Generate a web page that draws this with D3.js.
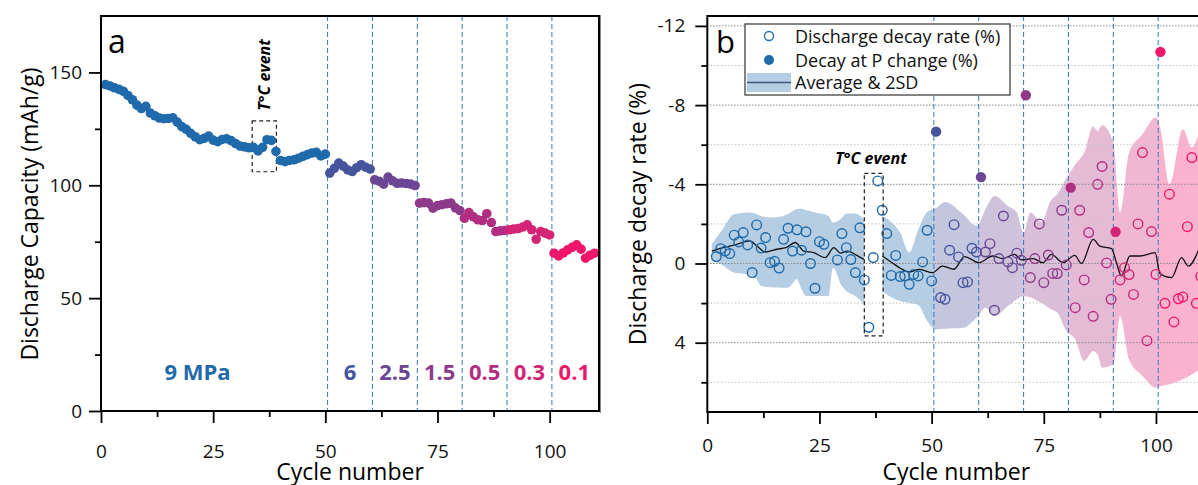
<!DOCTYPE html>
<html><head><meta charset="utf-8">
<script src="https://cdn.jsdelivr.net/npm/d3@7"></script>
<style>body{margin:0;background:#fff;} svg{display:block;font-family:"Open Sans",sans-serif;}</style>
</head><body><svg id="c" width="1198" height="485"></svg>
<script>
// ---------- DATA ----------
// Panel a: discharge capacity (mAh/g) for cycles 1..110
const capacity = [
 144.6,144.0,143.2,142.5,141.6,139.8,137.9,135.5,134.0,135.0,
 132.0,130.8,129.8,129.5,129.6,129.9,128.0,126.0,124.8,123.0,
 121.5,120.2,120.8,121.8,120.0,119.3,120.3,120.6,119.8,118.5,
 117.4,117.0,116.6,116.8,115.2,116.8,120.2,119.9,115.0,111.0,
 110.5,111.0,111.3,112.0,112.8,113.6,114.3,114.6,113.0,113.8,
 105.4,107.5,109.8,108.5,106.8,106.1,107.8,109.1,108.0,107.2,
 102.4,101.8,100.5,103.6,102.0,100.9,101.0,100.8,100.5,99.9,
 92.1,92.3,92.1,89.9,91.0,91.4,91.8,92.1,90.0,88.8,
 85.4,87.9,86.0,84.7,84.4,87.4,83.5,79.5,79.8,80.0,
 80.3,80.6,80.8,81.5,82.5,80.3,76.1,79.5,78.8,78.0,
 69.9,68.7,70.0,71.4,72.5,73.6,71.7,67.7,69.0,69.9
];
// Panel b: decay rate (%) open circles
const decayCycles = [2,3,4,5,6,7,8,9,10,11,12,13,14,15,16,17,18,19,20,21,22,23,24,25,26,
 29,30,31,32,33,34,35,36,37,38,39,40,41,42,43,44,45,46,47,48,49,50,
 52,53,54,55,56,57,58,59,60,62,63,64,65,66,67,68,69,70,
 72,73,74,75,76,77,78,79,80,82,83,84,85,86,87,88,89,90,
 92,93,94,95,96,97,98,99,100,102,103,104,105,106,107,108,109,110];
const decayValues = [-0.35,-0.75,-0.63,-0.5,-1.43,-1.09,-1.56,-0.94,0.46,-1.95,-0.78,-1.31,-0.04,-0.11,0.23,-1.22,-1.78,-0.63,-1.7,-0.67,-1.6,0.0,1.25,-1.1,-0.97,
 -0.18,-1.51,-0.8,-0.2,0.46,-1.8,0.83,3.22,-0.3,-4.17,-2.69,-1.51,0.6,-0.41,0.66,0.63,1.05,0.55,0.63,-0.08,-1.68,0.88,
 1.72,1.81,-0.67,-1.96,-0.33,0.97,0.93,-0.77,-0.58,-0.58,-1.0,2.36,-0.25,-2.4,-0.08,0.21,-0.52,-0.16,
 0.71,-0.25,-2.0,0.97,-0.43,0.5,0.51,-2.69,0.07,2.23,-2.69,0.83,-1.56,2.67,-4.0,-4.9,-0.03,1.81,
 0.83,0.21,0.56,1.56,-2.0,-5.6,3.9,-1.61,0.55,2.01,-3.5,2.95,1.78,1.69,-1.86,-5.35,2.01,0.65];
const pChangeCycles = [51,61,71,81,91,101];
const pChangeValues = [-6.66,-4.36,-8.5,-3.83,-1.6,-10.69];
// Average ± 2SD band (null = gap at T°C event)
const bandCycles = [1,3,6,9,11,12,14,17,18,20,21,22,24,27,28,30,31,33,35,37,39,41,43,45,47,49,51,53,57,60,62,64,67,69,70.5,72,74.5,76.5,78,80,82,84,86,87,88,90.5,92,94,97,100,101,103,106,108,110];
const bandUpper = [-0.97,-1.6,-2.49,-2.57,-2.5,-2.4,-2.32,-2.4,-2.5,-2.75,-2.77,-2.7,-2.57,-2.4,-2.07,-2.3,-2.52,-2.52,-2.2,null,-2.4,-2.1,-1.56,-0.55,-1.7,-2.6,-2.8,-3.1,-2.49,-1.9,-2.74,-3.41,-2.9,-2.57,-1.56,-2.57,-2.1,-3.16,-3.5,-4.3,-5.0,-5.6,-6.92,-6.7,-6.98,-6.1,-2.57,-5.6,-6.53,-7.37,-6.8,-4.0,-6.78,-5.86,-6.98];
const bandLower = [-0.13,0.04,0.46,0.56,0.8,1.14,1.2,1.22,1.22,0.8,1.3,1.64,1.64,1.64,0.21,1.14,1.4,1.64,2.06,null,1.4,1.7,1.9,2.0,2.1,2.9,3.33,3.3,3.25,2.74,2.23,2.65,2.15,1.8,1.64,1.72,2.0,2.3,2.48,3.4,3.83,4.92,4.42,4.6,5.26,5.09,2.65,4.84,5.68,6.27,6.2,6.1,5.85,5.6,5.34];
const meanCycles = [1,3.6,6.6,9.5,11,12.9,15.5,17.5,19.6,21.5,23.7,26.3,28.2,29.7,31.2,33,34.9,37,39,41.2,43.1,45,47.3,50.2,52.4,55,57.3,60.6,63.6,65.8,68.5,70,72.6,74.8,76.7,79.3,81.9,83.4,86,87.5,90.1,91.2,92.3,94.2,96.4,99.8,100.9,103.5,105.7,107.2,109.7];
const meanValues = [-0.63,-0.8,-0.97,-1.14,-0.9,-0.58,-0.72,-0.8,-1.06,-0.63,-0.55,-0.3,-0.8,-0.52,-0.63,-0.45,-0.21,null,-0.38,-0.04,0.25,0.43,0.3,0.46,0.13,0.29,-0.35,-0.04,-0.38,-0.25,-0.46,-0.18,-0.25,-0.04,-0.46,-0.04,-0.41,0.0,-1.22,-0.88,-0.75,-0.04,0.63,-0.38,-0.38,-0.55,0.51,0.71,-0.3,0.13,-0.79];
// Pressure segments
const pressureLabels = ["9 MPa","6","2.5","1.5","0.5","0.3","0.1"];
const pressureLabelCycles = [21.5,55.5,65.5,75.5,85.5,95.5,105.5];
const segmentColors = ["#1f6aab","#46549c","#6a4694","#8e3a8a","#b12e80","#d42475","#f0166a"];
const pChangeBoundaries = [50.5,60.5,70.5,80.5,90.5,100.5];
const xTicks = [0,25,50,75,100], xMinor = [12.5,37.5,62.5,87.5];
const yTicksA = [0,50,100,150], yMinorA = [25,75,125];
const yTicksB = [-12,-8,-4,0,4], yMinorB = [-10,-6,-2,2,6];

// ---------- HELPERS ----------
const segOf = c => c <= 50 ? 0 : Math.min(6, Math.floor((c - 51) / 10) + 1);
const svg = d3.select("#c");
const FONT = '"Open Sans",sans-serif';

// ---------- PANEL A ----------
const xA = d3.scaleLinear([0,111],[101,599]);
const yA = d3.scaleLinear([0,175],[411,16]);
const gA = svg.append("g");

gA.selectAll("line.pc").data(pChangeBoundaries).join("line")
  .attr("x1",d=>xA(d)).attr("x2",d=>xA(d)).attr("y1",yA(175)).attr("y2",yA(0))
  .attr("stroke","#3a78b8").attr("stroke-width",1).attr("stroke-dasharray","5,3");

gA.append("rect").attr("x",xA(33.7)).attr("y",yA(128.5)).attr("width",xA(39.1)-xA(33.7)).attr("height",yA(106)-yA(128.5))
  .attr("fill","none").attr("stroke","#222").attr("stroke-width",1.2).attr("stroke-dasharray","4,3");

gA.selectAll("circle").data(capacity).join("circle")
  .attr("cx",(d,i)=>xA(i+1)).attr("cy",d=>yA(d)).attr("r",4.8)
  .attr("fill",(d,i)=>segmentColors[segOf(i+1)]);

gA.append("text").attr("transform",`translate(${xA(36.4)},75) rotate(-90)`)
  .attr("text-anchor","middle").attr("dominant-baseline","central")
  .attr("font-size",16).attr("font-weight","bold").attr("font-style","italic").text("T°C event");

gA.selectAll("text.pl").data(pressureLabels).join("text").attr("class","pl")
  .attr("x",(d,i)=>xA(pressureLabelCycles[i])).attr("y",380)
  .attr("text-anchor","middle").attr("font-size",22).attr("font-weight","bold")
  .attr("fill",(d,i)=>segmentColors[i]).text(d=>d);

function styleAxis(g){ g.select(".domain").remove(); g.selectAll("line").attr("stroke","#000").attr("stroke-width",1.8);
  g.selectAll("text").attr("font-size",19).attr("font-family",FONT).attr("fill","#111"); }
svg.append("g").attr("transform","translate(0,411)")
  .call(d3.axisBottom(xA).tickValues(xTicks).tickSize(12).tickPadding(21.5)).call(styleAxis);
svg.append("g").attr("transform","translate(0,411)")
  .call(d3.axisBottom(xA).tickValues(xMinor).tickSize(6).tickFormat("")).call(styleAxis);
svg.append("g").attr("transform","translate(101,0)")
  .call(d3.axisLeft(yA).tickValues(yTicksA).tickSize(12).tickPadding(7)).call(styleAxis);
svg.append("g").attr("transform","translate(101,0)")
  .call(d3.axisLeft(yA).tickValues(yMinorA).tickSize(6).tickFormat("")).call(styleAxis);
svg.append("rect").attr("x",101).attr("y",16).attr("width",xA(111)-101).attr("height",395)
  .attr("fill","none").attr("stroke","#000").attr("stroke-width",2);
svg.append("text").attr("x",108).attr("y",53).attr("font-size",32).text("a");
svg.append("text").attr("x",xA(55.5)).attr("y",480).attr("text-anchor","middle").attr("font-size",23).text("Cycle number");
svg.append("text").attr("transform","translate(29,214) rotate(-90)").attr("text-anchor","middle")
  .attr("dominant-baseline","central").attr("font-size",23).text("Discharge Capacity (mAh/g)");

// ---------- PANEL B ----------
svg.append("line").attr("x1",600.5).attr("x2",600.5).attr("y1",15).attr("y2",413).attr("stroke","#888").attr("stroke-width",1);
const xB = d3.scaleLinear([0,111],[707.3,1205.3]);
const yB = d3.scaleLinear([-12.5,7.5],[16,412]);
const defs = svg.append("defs");
defs.append("clipPath").attr("id","clipB").append("rect").attr("x",707).attr("y",16).attr("width",500).attr("height",396);
const grad = defs.append("linearGradient").attr("id","bandGrad").attr("gradientUnits","userSpaceOnUse")
  .attr("x1",xB(0)).attr("x2",xB(111)).attr("y1",0).attr("y2",0);
const edges = [0,...pChangeBoundaries,111];
segmentColors.forEach((col,i)=>{
  grad.append("stop").attr("offset",edges[i]/111).attr("stop-color",col);
  grad.append("stop").attr("offset",edges[i+1]/111).attr("stop-color",col);
});
const gB = svg.append("g").attr("clip-path","url(#clipB)");
const bandData = bandCycles.map((c,i)=>({c,up:bandUpper[i],lo:bandLower[i]}));
gB.append("path").datum(bandData)
  .attr("d",d3.area().defined(d=>d.up!=null).x(d=>xB(d.c)).y0(d=>yB(d.lo)).y1(d=>yB(d.up)).curve(d3.curveMonotoneX))
  .attr("fill","url(#bandGrad)").attr("fill-opacity",0.33);
gB.selectAll("line.gM").data(yTicksB).join("line").attr("class","gM")
  .attr("x1",707).attr("x2",1206).attr("y1",d=>yB(d)).attr("y2",d=>yB(d))
  .attr("stroke","#8a8a8a").attr("stroke-width",1).attr("stroke-dasharray","1.5,1.5");
gB.selectAll("line.gm").data(yMinorB).join("line").attr("class","gm")
  .attr("x1",707).attr("x2",1206).attr("y1",d=>yB(d)).attr("y2",d=>yB(d))
  .attr("stroke","#c4c4c4").attr("stroke-width",1).attr("stroke-dasharray","1.5,2");
gB.selectAll("line.pc").data(pChangeBoundaries).join("line").attr("class","pc")
  .attr("x1",d=>xB(d)).attr("x2",d=>xB(d)).attr("y1",16).attr("y2",412)
  .attr("stroke","#3a78b8").attr("stroke-width",1).attr("stroke-dasharray","5,3");
const meanData = meanCycles.map((c,i)=>({c,v:meanValues[i]}));
gB.append("path").datum(meanData)
  .attr("d",d3.line().defined(d=>d.v!=null).x(d=>xB(d.c)).y(d=>yB(d.v)).curve(d3.curveMonotoneX))
  .attr("fill","none").attr("stroke","#111").attr("stroke-width",1.3);
gB.selectAll("circle.o").data(decayValues).join("circle").attr("class","o")
  .attr("cx",(d,i)=>xB(decayCycles[i])).attr("cy",d=>yB(d)).attr("r",4.8)
  .attr("fill","none").attr("stroke",(d,i)=>segmentColors[segOf(decayCycles[i])]).attr("stroke-width",1.4);
gB.selectAll("circle.f").data(pChangeValues).join("circle").attr("class","f")
  .attr("cx",(d,i)=>xB(pChangeCycles[i])).attr("cy",d=>yB(d)).attr("r",5.2)
  .attr("fill",(d,i)=>segmentColors[segOf(pChangeCycles[i])]);
gB.append("rect").attr("x",xB(35)).attr("y",yB(-4.55)).attr("width",xB(39.2)-xB(35)).attr("height",yB(3.66)-yB(-4.55))
  .attr("fill","none").attr("stroke","#222").attr("stroke-width",1.2).attr("stroke-dasharray","4,3");
svg.append("text").attr("x",871).attr("y",164).attr("text-anchor","middle")
  .attr("font-size",16).attr("font-weight","bold").attr("font-style","italic").text("T°C event");

svg.append("g").attr("transform","translate(0,412)")
  .call(d3.axisBottom(xB).tickValues(xTicks).tickSize(12).tickPadding(14.5)).call(styleAxis);
svg.append("g").attr("transform","translate(0,412)")
  .call(d3.axisBottom(xB).tickValues(xMinor).tickSize(6).tickFormat("")).call(styleAxis);
svg.append("g").attr("transform","translate(707.3,0)")
  .call(d3.axisLeft(yB).tickValues(yTicksB).tickSize(12).tickPadding(10).tickFormat(d=>String(d))).call(styleAxis);
svg.append("g").attr("transform","translate(707.3,0)")
  .call(d3.axisLeft(yB).tickValues(yMinorB).tickSize(6).tickFormat("")).call(styleAxis);
svg.append("rect").attr("x",707.3).attr("y",16).attr("width",498).attr("height",396)
  .attr("fill","none").attr("stroke","#000").attr("stroke-width",2);
svg.append("text").attr("x",716).attr("y",53).attr("font-size",31).text("b");
svg.append("text").attr("x",xB(55.5)).attr("y",480).attr("text-anchor","middle").attr("font-size",23).text("Cycle number");
svg.append("text").attr("transform","translate(637,214) rotate(-90)").attr("text-anchor","middle")
  .attr("dominant-baseline","central").attr("font-size",23).text("Discharge decay rate (%)");

const lg = svg.append("g");
lg.append("rect").attr("x",745).attr("y",24).attr("width",265).attr("height",71)
  .attr("fill","#fff").attr("stroke","#333").attr("stroke-width",1.2);
lg.append("circle").attr("cx",769).attr("cy",36).attr("r",4.5).attr("fill","#fff").attr("stroke",segmentColors[0]).attr("stroke-width",1.3);
lg.append("circle").attr("cx",769).attr("cy",60).attr("r",5).attr("fill",segmentColors[0]);
lg.append("rect").attr("x",747).attr("y",73).attr("width",44).attr("height",19).attr("fill",segmentColors[0]).attr("fill-opacity",0.33);
lg.append("line").attr("x1",747).attr("x2",791).attr("y1",82.5).attr("y2",82.5).attr("stroke","#3c5a7d").attr("stroke-width",1.4);
const legendTexts = ["Discharge decay rate (%)","Decay at P change (%)","Average & 2SD"];
lg.selectAll("text").data(legendTexts).join("text").attr("x",795).attr("y",(d,i)=>[42.5,66.5,89][i])
  .attr("font-size",18).attr("fill","#111").text(d=>d);
</script></body></html>
